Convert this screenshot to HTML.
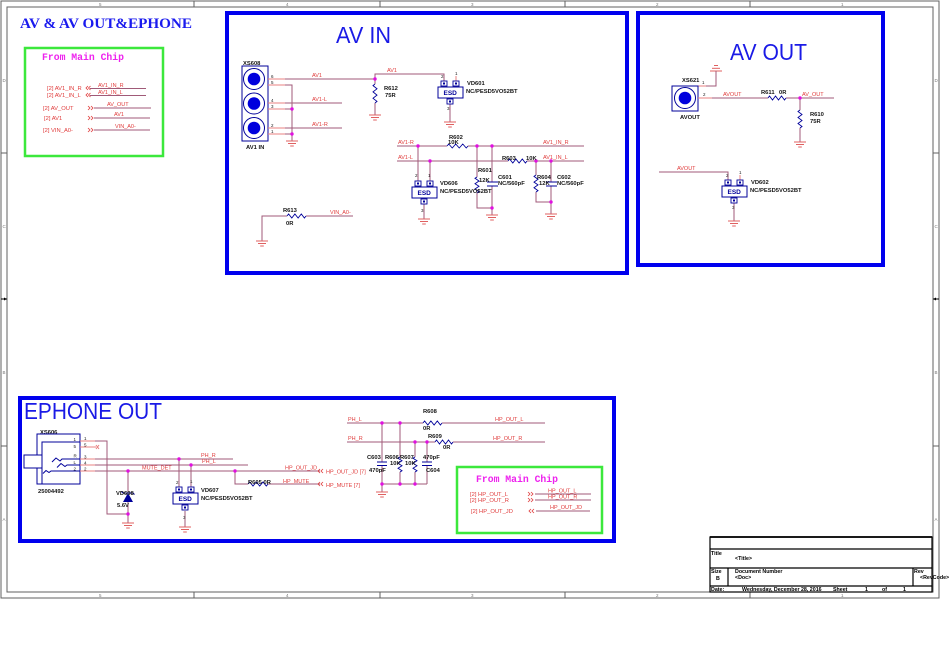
<!DOCTYPE html>
<html>
<head>
<meta charset="utf-8">
<style>
html,body{margin:0;padding:0;background:#fff;}
svg{display:block;}
text{font-family:"Liberation Sans",Arial,sans-serif;}
.w{stroke:#a05a78;stroke-width:1;fill:none;}
.p{stroke:#e88080;stroke-width:1;fill:none;}
.c{stroke:#00009a;stroke-width:1;fill:none;}
.r{stroke:#00009a;stroke-width:0.9;fill:none;}
.f{stroke:#606060;stroke-width:1;fill:none;}
.tb{stroke:#000;stroke-width:1.2;fill:none;}
.nl{font-size:5.5px;fill:#e03c3c;}
.pl{font-size:5.8px;font-weight:bold;fill:#151515;}
.pn{font-size:4.5px;fill:#222;}
.fl{font-size:4.5px;fill:#777;}
.gc{font-size:5.8px;fill:#e03c3c;}
.ch{stroke:#e03c3c;stroke-width:0.8;fill:none;}
.tt{font-size:5.3px;font-weight:bold;fill:#000;}
</style>
</head>
<body>
<svg width="950" height="672" viewBox="0 0 950 672" xmlns="http://www.w3.org/2000/svg">
<defs>
  <g id="gnd">
    <line x1="-6" y1="0" x2="6" y2="0" stroke="#e06060" stroke-width="1"/>
    <line x1="-4" y1="2.5" x2="4" y2="2.5" stroke="#e06060" stroke-width="1"/>
    <line x1="-1.8" y1="5" x2="1.8" y2="5" stroke="#e06060" stroke-width="1"/>
  </g>
  <g id="jn"><circle cx="0" cy="0" r="1.7" fill="#e010e0"/></g>
  <g id="pad">
    <rect x="0" y="0" width="6" height="5" fill="#fff" stroke="#00009a" stroke-width="0.9"/>
    <rect x="2" y="1.5" width="2" height="2" fill="#00009a"/>
  </g>
  <g id="esd">
    <rect x="0" y="0" width="25" height="11" fill="#fff" stroke="#00009a" stroke-width="1"/>
    <use href="#pad" x="3" y="-6"/>
    <use href="#pad" x="15" y="-6"/>
    <use href="#pad" x="9" y="12"/>
    <text x="5.5" y="7.8" style="font-size:6.5px;font-weight:bold;fill:#00009a;">ESD</text>
  </g>
</defs>

<!-- ============ FRAME ============ -->
<rect x="1" y="1" width="938" height="597" class="f"/>
<rect x="7" y="7" width="926" height="585" class="f"/>
<g class="f">
  <line x1="194" y1="1" x2="194" y2="7"/><line x1="380" y1="1" x2="380" y2="7"/>
  <line x1="565" y1="1" x2="565" y2="7"/><line x1="750" y1="1" x2="750" y2="7"/>
  <line x1="194" y1="592" x2="194" y2="598"/><line x1="380" y1="592" x2="380" y2="598"/>
  <line x1="565" y1="592" x2="565" y2="598"/><line x1="750" y1="592" x2="750" y2="598"/>
  <line x1="1" y1="153" x2="7" y2="153"/><line x1="1" y1="446" x2="7" y2="446"/>
  <line x1="933" y1="153" x2="939" y2="153"/><line x1="933" y1="446" x2="939" y2="446"/>
</g>
<line x1="1" y1="299" x2="7" y2="299" stroke="#000" stroke-width="1"/>
<polygon points="7,299 4,297.5 4,300.5" fill="#000"/>
<line x1="933" y1="299" x2="939" y2="299" stroke="#000" stroke-width="1"/>
<polygon points="933,299 936,297.5 936,300.5" fill="#000"/>
<g class="fl">
  <text x="99" y="6">5</text><text x="286" y="6">4</text><text x="471" y="6">3</text><text x="656" y="6">2</text><text x="841" y="6">1</text>
  <text x="99" y="597">5</text><text x="286" y="597">4</text><text x="471" y="597">3</text><text x="656" y="597">2</text><text x="841" y="597">1</text>
  <text x="2.5" y="82">D</text><text x="2.5" y="228">C</text><text x="2.5" y="374">B</text><text x="2.5" y="521">A</text>
  <text x="934.5" y="82">D</text><text x="934.5" y="228">C</text><text x="934.5" y="374">B</text><text x="934.5" y="521">A</text>
</g>

<!-- ============ TITLE ============ -->
<text x="20" y="28" textLength="172" lengthAdjust="spacingAndGlyphs" style="font-family:'Liberation Serif',serif;font-weight:bold;font-size:14.5px;fill:#1a1aee;">AV &amp; AV OUT&amp;EPHONE</text>

<!-- ============ GREEN BOX 1 ============ -->
<rect x="25" y="48" width="138" height="108" fill="none" stroke="#3ce83c" stroke-width="2.5"/>
<text x="42" y="60" textLength="82" lengthAdjust="spacingAndGlyphs" style="font-family:'Liberation Mono',monospace;font-weight:bold;font-size:10px;fill:#ee22ee;">From Main Chip</text>
<g class="gc">
  <text x="47" y="90">[2]  AV1_IN_R</text>
  <text x="47" y="97">[2]  AV1_IN_L</text>
  <text x="43" y="110">[2]  AV_OUT</text>
  <text x="44" y="120">[2]  AV1</text>
  <text x="43" y="132">[2]  VIN_A0-</text>
</g>
<g class="ch">
  <polyline points="88,86 86,88 88,90"/><polyline points="90.5,86 88.5,88 90.5,90"/>
  <polyline points="88,93 86,95 88,97"/><polyline points="90.5,93 88.5,95 90.5,97"/>
  <polyline points="88,106 90,108 88,110"/><polyline points="91,106 93,108 91,110"/>
  <polyline points="88,116 90,118 88,120"/><polyline points="91,116 93,118 91,120"/>
  <polyline points="88,128 90,130 88,132"/><polyline points="91,128 93,130 91,132"/>
</g>
<g class="w">
  <line x1="90" y1="88.5" x2="146" y2="88.5"/>
  <line x1="90" y1="95.5" x2="146" y2="95.5"/>
  <line x1="94" y1="108" x2="151" y2="108"/>
  <line x1="94" y1="118" x2="150" y2="118"/>
  <line x1="94" y1="130" x2="150" y2="130"/>
</g>
<g class="nl">
  <text x="98" y="87">AV1_IN_R</text>
  <text x="98" y="94">AV1_IN_L</text>
  <text x="107" y="106">AV_OUT</text>
  <text x="114" y="116">AV1</text>
  <text x="115" y="128">VIN_A0-</text>
</g>

<!-- ============ AV IN ============ -->
<rect x="227" y="13" width="400" height="260" fill="none" stroke="#0000ee" stroke-width="4"/>
<text x="336" y="43" textLength="55" lengthAdjust="spacingAndGlyphs" style="font-size:23px;fill:#1a1ae6;">AV IN</text>

<text x="243" y="65" class="pl">XS608</text>
<rect x="242" y="66" width="26" height="75" class="c"/>
<circle cx="254" cy="79" r="10.5" class="c"/><circle cx="254" cy="79" r="6.3" fill="#0000dd"/>
<circle cx="254" cy="103.5" r="10.5" class="c"/><circle cx="254" cy="103.5" r="6.3" fill="#0000dd"/>
<circle cx="254" cy="128" r="10.5" class="c"/><circle cx="254" cy="128" r="6.3" fill="#0000dd"/>
<text x="246" y="149" class="pl">AV1 IN</text>

<g class="p">
  <line x1="268" y1="79" x2="285" y2="79"/><line x1="268" y1="85" x2="285" y2="85"/>
  <line x1="268" y1="103" x2="285" y2="103"/><line x1="268" y1="109" x2="285" y2="109"/>
  <line x1="268" y1="128" x2="285" y2="128"/><line x1="268" y1="134" x2="285" y2="134"/>
</g>
<g class="pn">
  <text x="271" y="78">6</text><text x="271" y="84">5</text><text x="271" y="102">4</text>
  <text x="271" y="108">3</text><text x="271" y="127">2</text><text x="271" y="133">1</text>
</g>
<g class="w">
  <line x1="285" y1="79" x2="375" y2="79"/>
  <polyline points="285,85 292,85 292,141"/>
  <line x1="285" y1="103" x2="342" y2="103"/>
  <line x1="285" y1="109" x2="292" y2="109"/>
  <line x1="285" y1="128" x2="342" y2="128"/>
  <line x1="285" y1="134" x2="292" y2="134"/>
  <polyline points="375,79 375,74 444,74 444,81"/>
  <line x1="375" y1="79" x2="375" y2="84"/>
  <line x1="375" y1="103" x2="375" y2="115"/>
  <line x1="450" y1="104" x2="450" y2="122"/>
</g>
<line x1="456" y1="76" x2="456" y2="81" class="p"/>
<use href="#jn" x="292" y="109"/><use href="#jn" x="292" y="134"/><use href="#jn" x="375" y="79"/>
<use href="#gnd" x="292" y="141"/>
<use href="#gnd" x="375" y="115"/>
<use href="#gnd" x="450" y="122"/>
<polyline class="r" points="375,84 373,85.6 377,88.8 373,91.9 377,95.1 373,98.3 377,101.4 375,103"/>
<g class="nl">
  <text x="312" y="77">AV1</text>
  <text x="312" y="101">AV1-L</text>
  <text x="312" y="126">AV1-R</text>
  <text x="387" y="72">AV1</text>
</g>
<text x="384" y="90" class="pl">R612</text>
<text x="385" y="97" class="pl">75R</text>

<use href="#esd" x="438" y="87"/>
<g class="pn"><text x="441" y="78">2</text><text x="455" y="75">1</text><text x="447" y="110">3</text></g>
<text x="467" y="85" class="pl">VD601</text>
<text x="466" y="93" class="pl">NC/PESD5VO52BT</text>

<!-- middle AV IN -->
<g class="w">
  <line x1="397" y1="146" x2="447" y2="146"/>
  <line x1="468" y1="146" x2="584" y2="146"/>
  <line x1="397" y1="161" x2="508" y2="161"/>
  <line x1="527" y1="161" x2="584" y2="161"/>
  <line x1="418" y1="146" x2="418" y2="181"/>
  <line x1="430" y1="161" x2="430" y2="181"/>
  <line x1="424" y1="204" x2="424" y2="219"/>
  <line x1="477" y1="146" x2="477" y2="177"/>
  <polyline points="477,193 477,208 492,208"/>
  <line x1="492" y1="146" x2="492" y2="182"/>
  <line x1="492" y1="186" x2="492" y2="215"/>
  <line x1="536" y1="161" x2="536" y2="175"/>
  <polyline points="536,192 536,202 551,202"/>
  <line x1="551" y1="161" x2="551" y2="182"/>
  <line x1="551" y1="186" x2="551" y2="214"/>
  <polyline points="262,241 262,216 287,216"/>
  <line x1="306" y1="216" x2="353" y2="216"/>
</g>
<polyline class="r" points="447,146 448.75,144 452.25,148 455.75,144 459.25,148 462.75,144 466.25,148 468,146"/>
<polyline class="r" points="508,161 509.6,159 512.8,163 515.9,159 519.1,163 522.3,159 525.4,163 527,161"/>
<polyline class="r" points="477,177 475,178.3 479,181 475,183.7 479,186.3 475,189 479,191.7 477,193"/>
<polyline class="r" points="536,175 534,176.4 538,179.3 534,182.1 538,184.9 534,187.8 538,190.6 536,192"/>
<polyline class="r" points="287,216 288.6,214 291.8,218 294.9,214 298.1,218 301.3,214 304.4,218 306,216"/>
<g class="c">
  <line x1="487" y1="182" x2="498" y2="182"/><line x1="487" y1="186" x2="498" y2="186"/>
  <line x1="546" y1="182" x2="557" y2="182"/><line x1="546" y1="186" x2="557" y2="186"/>
</g>
<use href="#jn" x="418" y="146"/><use href="#jn" x="477" y="146"/><use href="#jn" x="492" y="146"/>
<use href="#jn" x="430" y="161"/><use href="#jn" x="536" y="161"/><use href="#jn" x="551" y="161"/>
<use href="#jn" x="492" y="208"/><use href="#jn" x="551" y="202"/>
<use href="#gnd" x="424" y="219"/><use href="#gnd" x="492" y="215"/><use href="#gnd" x="551" y="214"/>
<use href="#gnd" x="262" y="241"/>
<use href="#esd" x="412" y="187"/>
<g class="pn"><text x="415" y="177">2</text><text x="428" y="177">1</text><text x="421" y="212">3</text></g>
<g class="nl">
  <text x="398" y="144">AV1-R</text>
  <text x="398" y="159">AV1-L</text>
  <text x="543" y="144">AV1_IN_R</text>
  <text x="543" y="159">AV1_IN_L</text>
  <text x="330" y="214">VIN_A0-</text>
</g>
<g class="pl">
  <text x="449" y="139">R602</text><text x="448" y="144">10K</text>
  <text x="502" y="160">R603</text><text x="526" y="160">10K</text>
  <text x="440" y="185">VD606</text><text x="440" y="193">NC/PESD5VO52BT</text>
  <text x="478" y="172">R601</text><text x="479" y="182">12K</text>
  <text x="498" y="179">C601</text><text x="498" y="185">NC/560pF</text>
  <text x="537" y="179">R604</text><text x="539" y="185">12K</text>
  <text x="557" y="179">C602</text><text x="557" y="185">NC/560pF</text>
  <text x="283" y="212">R613</text><text x="286" y="225">0R</text>
</g>

<!-- ============ AV OUT ============ -->
<rect x="638" y="13" width="245" height="252" fill="none" stroke="#0000ee" stroke-width="4"/>
<text x="730" y="60" textLength="77" lengthAdjust="spacingAndGlyphs" style="font-size:23px;fill:#1a1ae6;">AV OUT</text>

<g stroke="#e06060" stroke-width="1">
  <line x1="714" y1="65.5" x2="718" y2="65.5"/>
  <line x1="712" y1="68.3" x2="720" y2="68.3"/>
  <line x1="710" y1="71" x2="722" y2="71"/>
</g>
<polyline class="w" points="716,71 716,86 706,86"/>
<line x1="698" y1="86" x2="706" y2="86" class="p"/>
<text x="702" y="84" class="pn">1</text>
<text x="682" y="82" class="pl">XS621</text>
<rect x="672" y="86" width="26" height="25" class="c"/>
<circle cx="685" cy="98" r="10.5" class="c"/><circle cx="685" cy="98" r="6.3" fill="#0000dd"/>
<text x="680" y="119" class="pl">AVOUT</text>
<line x1="698" y1="98" x2="712" y2="98" class="p"/>
<text x="703" y="96" class="pn">2</text>
<g class="w">
  <line x1="712" y1="98" x2="768" y2="98"/>
  <line x1="786" y1="98" x2="834" y2="98"/>
  <line x1="800" y1="98" x2="800" y2="110"/>
  <line x1="800" y1="128" x2="800" y2="142"/>
  <polyline points="659,172 728,172 728,180"/>
  <line x1="734" y1="203" x2="734" y2="221"/>
</g>
<line x1="740" y1="175" x2="740" y2="180" class="p"/>
<polyline class="r" points="768,98 769.5,96 772.5,100 775.5,96 778.5,100 781.5,96 784.5,100 786,98"/>
<polyline class="r" points="800,110 798,111.5 802,114.5 798,117.5 802,120.5 798,123.5 802,126.5 800,128"/>
<use href="#jn" x="800" y="98"/>
<use href="#gnd" x="800" y="142"/>
<use href="#gnd" x="734" y="221"/>
<use href="#esd" x="722" y="186"/>
<g class="pn"><text x="726" y="177">2</text><text x="739" y="174">1</text><text x="732" y="209">3</text></g>
<g class="nl">
  <text x="723" y="96">AVOUT</text>
  <text x="802" y="96">AV_OUT</text>
  <text x="677" y="170">AVOUT</text>
</g>
<g class="pl">
  <text x="761" y="94">R611</text><text x="779" y="94">0R</text>
  <text x="810" y="116">R610</text><text x="810" y="123">75R</text>
  <text x="751" y="184">VD602</text><text x="750" y="192">NC/PESD5VO52BT</text>
</g>

<!-- ============ EPHONE OUT ============ -->
<rect x="20" y="398" width="594" height="143" fill="none" stroke="#0000ee" stroke-width="4"/>
<text x="24" y="419" textLength="138" lengthAdjust="spacingAndGlyphs" style="font-size:23px;fill:#1a1ae6;">EPHONE OUT</text>

<text x="40" y="434" class="pl">XS606</text>
<rect x="37" y="434" width="43" height="50" class="c"/>
<polyline class="c" points="80,442 42,442 42,484"/>
<rect x="24" y="455" width="18" height="13" fill="#fff" stroke="#00009a" stroke-width="1"/>
<polyline class="c" points="52,462 56,458 60,461 62,459 80,459"/>
<polyline class="c" points="57,467.5 61,463.5 65,466.5 67,465 80,465"/>
<polyline class="c" points="43,473.5 46,470.5 49,472.5 51,471 80,471"/>
<g class="pn">
  <text x="73.5" y="441">1</text><text x="73.5" y="448">5</text><text x="73.5" y="457.5">R</text>
  <text x="73.5" y="464">L</text><text x="73.5" y="470.5">2</text>
  <text x="84" y="440">1</text><text x="84" y="446.5">5</text><text x="84" y="458.5">3</text>
  <text x="84" y="464.5">4</text><text x="84" y="470.5">2</text>
</g>
<text x="38" y="493" class="pl">25004492</text>
<g class="p">
  <line x1="80" y1="441" x2="95" y2="441"/>
  <line x1="80" y1="447" x2="96" y2="447"/>
  <line x1="80" y1="459" x2="95" y2="459"/>
  <line x1="80" y1="465" x2="95" y2="465"/>
  <line x1="80" y1="471" x2="95" y2="471"/>
  <line x1="96" y1="445" x2="99" y2="449"/><line x1="96" y1="449" x2="99" y2="445"/>
</g>
<g class="w">
  <polyline points="95,441 107,441 107,514 128,514"/>
  <line x1="95" y1="459" x2="233" y2="459"/>
  <line x1="95" y1="465" x2="248" y2="465"/>
  <line x1="95" y1="471" x2="320" y2="471"/>
  <line x1="128" y1="471" x2="128" y2="493"/>
  <line x1="128" y1="502" x2="128" y2="523"/>
  <line x1="179" y1="459" x2="179" y2="487"/>
  <line x1="191" y1="465" x2="191" y2="487"/>
  <line x1="185" y1="511" x2="185" y2="527"/>
  <polyline points="235,471 235,484 248,484"/>
  <line x1="268" y1="484" x2="320" y2="484"/>
</g>
<polyline class="r" points="248,484 249.7,482 253,486 256.3,482 259.7,486 263,482 266.3,486 268,484"/>
<!-- zener -->
<polyline points="121.5,491.5 123,493 133,493 134.5,494.5" fill="none" stroke="#00009a" stroke-width="1"/>
<polygon points="128,493 123,502 133,502" fill="#00009a"/>
<use href="#jn" x="128" y="471"/><use href="#jn" x="128" y="514"/>
<use href="#jn" x="179" y="459"/><use href="#jn" x="191" y="465"/><use href="#jn" x="235" y="471"/>
<use href="#gnd" x="128" y="523"/>
<use href="#gnd" x="185" y="527"/>
<use href="#esd" x="173" y="493"/>
<g class="pn"><text x="176" y="484">2</text><text x="190" y="483">1</text><text x="183" y="519">3</text></g>
<g class="pl">
  <text x="116" y="495">VD608</text><text x="117" y="507">5.6V</text>
  <text x="201" y="492">VD607</text><text x="201" y="500">NC/PESD5VO52BT</text>
  <text x="248" y="484">R605 0R</text>
</g>
<g class="nl">
  <text x="201" y="457">PH_R</text>
  <text x="202" y="463">PH_L</text>
  <text x="142" y="469.5">MUTE_DET</text>
  <text x="285" y="469.5">HP_OUT_JD</text>
  <text x="283" y="483">HP_MUTE</text>
  <text x="326" y="473.5">HP_OUT_JD  [7]</text>
  <text x="326" y="487">HP_MUTE  [7]</text>
</g>
<g class="ch">
  <polyline points="320,469 318,471 320,473"/><polyline points="323,469 321,471 323,473"/>
  <polyline points="320,482 318,484 320,486"/><polyline points="323,482 321,484 323,486"/>
</g>

<!-- middle ephone -->
<g class="w">
  <line x1="347" y1="423" x2="423" y2="423"/>
  <line x1="442" y1="423" x2="545" y2="423"/>
  <line x1="347" y1="442" x2="435" y2="442"/>
  <line x1="453" y1="442" x2="545" y2="442"/>
  <line x1="382" y1="423" x2="382" y2="462"/>
  <line x1="382" y1="465" x2="382" y2="492"/>
  <line x1="400" y1="423" x2="400" y2="457"/>
  <line x1="400" y1="472" x2="400" y2="484"/>
  <line x1="415" y1="442" x2="415" y2="457"/>
  <line x1="415" y1="472" x2="415" y2="484"/>
  <line x1="427" y1="442" x2="427" y2="462"/>
  <line x1="427" y1="465" x2="427" y2="484"/>
  <line x1="382" y1="484" x2="427" y2="484"/>
</g>
<polyline class="r" points="423,423 424.6,421 427.8,425 430.9,421 434.1,425 437.3,421 440.4,425 442,423"/>
<polyline class="r" points="435,442 436.5,440 439.5,444 442.5,440 445.5,444 448.5,440 451.5,444 453,442"/>
<polyline class="r" points="400,457 398,458.25 402,460.75 398,463.25 402,465.75 398,468.25 402,470.75 400,472"/>
<polyline class="r" points="415,457 413,458.25 417,460.75 413,463.25 417,465.75 413,468.25 417,470.75 415,472"/>
<g class="c">
  <line x1="377" y1="462" x2="387" y2="462"/><line x1="377" y1="465.5" x2="387" y2="465.5"/>
  <line x1="422" y1="462" x2="432" y2="462"/><line x1="422" y1="465.5" x2="432" y2="465.5"/>
</g>
<use href="#jn" x="382" y="423"/><use href="#jn" x="400" y="423"/>
<use href="#jn" x="415" y="442"/><use href="#jn" x="427" y="442"/>
<use href="#jn" x="382" y="484"/><use href="#jn" x="400" y="484"/><use href="#jn" x="415" y="484"/>
<use href="#gnd" x="382" y="492"/>
<g class="nl">
  <text x="348" y="421">PH_L</text>
  <text x="348" y="440">PH_R</text>
  <text x="495" y="421">HP_OUT_L</text>
  <text x="493" y="440">HP_OUT_R</text>
</g>
<g class="pl">
  <text x="423" y="413">R608</text><text x="423" y="430">0R</text>
  <text x="428" y="438">R609</text><text x="443" y="449">0R</text>
  <text x="367" y="459">C603</text><text x="369" y="472">470pF</text>
  <text x="385" y="459">R606</text><text x="390" y="465">10K</text>
  <text x="400" y="459">R607</text><text x="405" y="465">10K</text>
  <text x="423" y="459">470pF</text><text x="426" y="472">C604</text>
</g>

<!-- green box 2 -->
<rect x="457" y="467" width="145" height="66" fill="none" stroke="#3ce83c" stroke-width="2.5"/>
<text x="476" y="482" textLength="82" lengthAdjust="spacingAndGlyphs" style="font-family:'Liberation Mono',monospace;font-weight:bold;font-size:10px;fill:#ee22ee;">From Main Chip</text>
<g class="gc">
  <text x="470" y="496">[2]  HP_OUT_L</text>
  <text x="470" y="502">[2]  HP_OUT_R</text>
  <text x="471" y="513">[2]  HP_OUT_JD</text>
</g>
<g class="ch">
  <polyline points="528,492 530,494 528,496"/><polyline points="531,492 533,494 531,496"/>
  <polyline points="528,498 530,500 528,502"/><polyline points="531,498 533,500 531,502"/>
  <polyline points="531,509 529,511 531,513"/><polyline points="534,509 532,511 534,513"/>
</g>
<g class="w">
  <line x1="535" y1="494" x2="591" y2="494"/>
  <line x1="535" y1="500" x2="591" y2="500"/>
  <line x1="536" y1="511" x2="590" y2="511"/>
</g>
<g class="nl">
  <text x="548" y="492.5">HP_OUT_L</text>
  <text x="548" y="498.5">HP_OUT_R</text>
  <text x="550" y="509">HP_OUT_JD</text>
</g>

<!-- ============ TITLE BLOCK ============ -->
<rect x="710" y="537" width="222" height="55" class="tb"/>
<line x1="710" y1="537" x2="932" y2="537" stroke="#000" stroke-width="1.8"/>
<g class="tb">
  <line x1="710" y1="549" x2="932" y2="549"/>
  <line x1="710" y1="568" x2="932" y2="568"/>
  <line x1="710" y1="586" x2="932" y2="586"/>
  <line x1="728" y1="568" x2="728" y2="586"/>
  <line x1="913" y1="568" x2="913" y2="586"/>
</g>
<g class="tt">
  <text x="711" y="555">Title</text>
  <text x="735" y="560">&lt;Title&gt;</text>
  <text x="711" y="573">Size</text>
  <text x="716" y="580">B</text>
  <text x="735" y="573">Document Number</text>
  <text x="735" y="579">&lt;Doc&gt;</text>
  <text x="914" y="573">Rev</text>
  <text x="920" y="579">&lt;RevCode&gt;</text>
  <text x="711" y="591">Date:</text>
  <text x="742" y="591">Wednesday, December 28, 2016</text>
  <text x="833" y="591">Sheet</text>
  <text x="865" y="591">1</text>
  <text x="882" y="591">of</text>
  <text x="903" y="591">1</text>
</g>
</svg>
</body>
</html>
